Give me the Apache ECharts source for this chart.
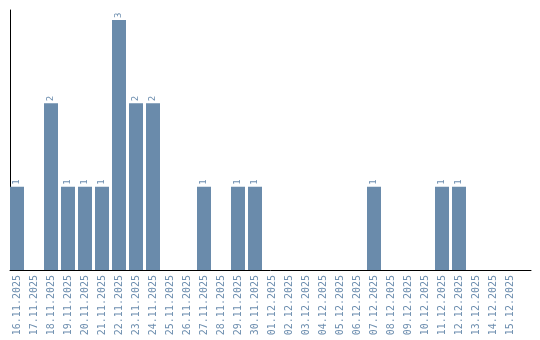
<!DOCTYPE html>
<html>
<head>
<meta charset="utf-8">
<script src="https://cdn.jsdelivr.net/npm/echarts@6/dist/echarts.min.js"></script>
<style>html,body{margin:0;padding:0;background:#fff;}#c{width:540px;height:340px;}</style>
</head>
<body>
<div id="c"></div>
<script>
var categories = ["16.11.2025","17.11.2025","18.11.2025","19.11.2025","20.11.2025","21.11.2025","22.11.2025","23.11.2025","24.11.2025","25.11.2025","26.11.2025","27.11.2025","28.11.2025","29.11.2025","30.11.2025","01.12.2025","02.12.2025","03.12.2025","04.12.2025","05.12.2025","06.12.2025","07.12.2025","08.12.2025","09.12.2025","10.12.2025","11.12.2025","12.12.2025","13.12.2025","14.12.2025","15.12.2025"];
var counts = [1,0,2,1,1,1,3,2,2,0,0,1,0,1,1,0,0,0,0,0,0,1,0,0,0,1,1,0,0,0];

var chart = echarts.init(document.getElementById('c'), null, {renderer:'canvas'});
var font = '"DejaVu Sans Mono", monospace';
chart.setOption({
  animation: false,
  grid: [
    {left: 8.5, top: 10, width: 510, height: 260},
    {left: 10, top: 10, width: 521, height: 260}
  ],
  xAxis: [
    {
      type: 'category', gridIndex: 0, data: categories,
      axisLine: {show: false}, axisTick: {show: false},
      axisLabel: {interval: 0, rotate: 90, color: '#6d8eaf', fontFamily: font, fontSize: 10, margin: 5}
    },
    {
      type: 'value', gridIndex: 1, min: 0, max: 1,
      axisLine: {show: true, lineStyle: {color: '#000', width: 1}},
      axisTick: {show: false}, axisLabel: {show: false}, splitLine: {show: false}
    }
  ],
  yAxis: [
    {
      type: 'value', gridIndex: 0, min: 0, max: 3.12,
      axisLine: {show: false}, axisTick: {show: false}, axisLabel: {show: false}, splitLine: {show: false}
    },
    {
      type: 'value', gridIndex: 1, min: 0, max: 1,
      axisLine: {show: true, lineStyle: {color: '#000', width: 1}},
      axisTick: {show: false}, axisLabel: {show: false}, splitLine: {show: false}
    }
  ],
  series: [{
    type: 'bar', xAxisIndex: 0, yAxisIndex: 0,
    data: counts.map(function(v){ return v === 0 ? null : v; }),
    barWidth: 14,
    itemStyle: {color: '#6a8bab'},
    label: {
      show: true, position: 'top', rotate: 90, align: 'left', verticalAlign: 'middle',
      distance: 2, color: '#6d8eaf', fontFamily: font, fontSize: 9
    }
  }]
});
</script>
</body>
</html>
